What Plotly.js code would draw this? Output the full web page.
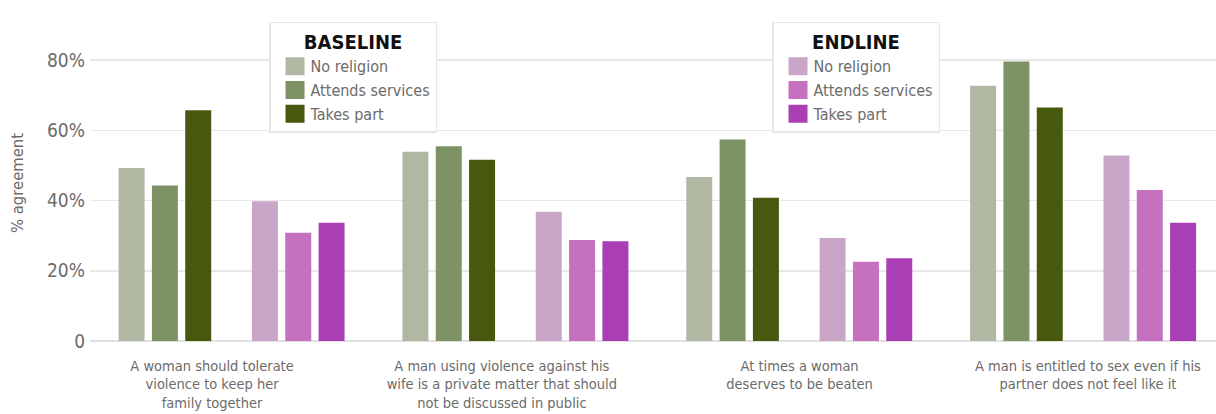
<!DOCTYPE html>
<html>
<head>
<meta charset="utf-8">
<script src="https://cdn.plot.ly/plotly-3.0.1.min.js"></script>
<style>
  html, body { margin: 0; padding: 0; background: #ffffff; }
  #chart { width: 1216px; height: 414px; }
</style>
</head>
<body>
<div id="chart"></div>
<script>
// ---- Data ----
const categories = [
  "A woman should tolerate<br>violence to keep her<br>family together",
  "A man using violence against his<br>wife is a private matter that should<br>not be discussed in public",
  "At times a woman<br>deserves to be beaten",
  "A man is entitled to sex even if his<br>partner does not feel like it"
];
const seriesNames = ["No religion", "Attends services", "Takes part"];
const baselineNoReligion = [49.3, 53.9, 46.7, 72.7];
const baselineAttends    = [44.3, 55.5, 57.4, 79.6];
const baselineTakesPart  = [65.7, 51.6, 40.8, 66.5];
const endlineNoReligion  = [39.8, 36.8, 29.3, 52.8];
const endlineAttends     = [30.8, 28.8, 22.6, 43.0];
const endlineTakesPart   = [33.7, 28.4, 23.6, 33.7];
const yTickVals = [0, 20, 40, 60, 80];
const yTickText = ["0", "20%", "40%", "60%", "80%"];

// ---- Styling ----
const FONT = "'Liberation Sans Narrow', 'DejaVu Sans Condensed', sans-serif";
const TEXT_GRAY = "#6b6b6b";
const baselineColors = ["#b0b7a3", "#7e9365", "#47580f"];
const endlineColors  = ["#c9a6c8", "#c571c0", "#aa3fb5"];
const BAR_W = 0.0916;
const PITCH = 0.1174;
const baselineOffsets = [-0.3993, -0.3993 + PITCH, -0.3993 + 2 * PITCH];
const endlineOffsets  = [0.0705, 0.0705 + PITCH, 0.0705 + 2 * PITCH];
const labelShift = [-0.07, -0.049, 0.0, 0.016]; // horizontal nudge of category labels

const xIdx = categories.map((_, i) => i);
const baselineData = [baselineNoReligion, baselineAttends, baselineTakesPart];
const endlineData = [endlineNoReligion, endlineAttends, endlineTakesPart];

const traces = [];
baselineData.forEach((vals, k) => {
  traces.push({
    type: "bar", x: xIdx, y: vals, name: seriesNames[k],
    width: BAR_W, offset: baselineOffsets[k],
    marker: { color: baselineColors[k], line: { width: 0 } },
    legend: "legend", hoverinfo: "y+name"
  });
});
endlineData.forEach((vals, k) => {
  traces.push({
    type: "bar", x: xIdx, y: vals, name: seriesNames[k],
    width: BAR_W, offset: endlineOffsets[k],
    marker: { color: endlineColors[k], line: { width: 0 } },
    legend: "legend2", hoverinfo: "y+name"
  });
});

const legendCommon = {
  bgcolor: "#ffffff",
  bordercolor: "#e6e6e6",
  borderwidth: 1.5,
  font: { family: FONT, size: 16, color: TEXT_GRAY },
  xanchor: "left", yanchor: "top",
  tracegroupgap: 0,
  itemwidth: 30,
  traceorder: "normal"
};

const layout = {
  width: 1216, height: 414,
  margin: { l: 90, r: 0, t: 25, b: 73 },
  paper_bgcolor: "#ffffff", plot_bgcolor: "#ffffff",
  barmode: "overlay",
  font: { family: FONT, color: TEXT_GRAY },
  showlegend: true,
  xaxis: {
    type: "linear",
    range: [-0.5, 3.467],
    tickmode: "array",
    tickvals: xIdx.map((v, i) => v + labelShift[i]),
    ticktext: categories,
    showgrid: false, zeroline: false,
    showline: false, ticks: "",
    tickfont: { family: FONT, size: 14.5, color: TEXT_GRAY },
    ticklabelstandoff: 14
  },
  yaxis: {
    range: [0, 90],
    tickmode: "array",
    tickvals: yTickVals,
    ticktext: yTickText,
    showgrid: true, gridcolor: "#e8e8e8", gridwidth: 1.5,
    zeroline: true, zerolinecolor: "#e0e0e0", zerolinewidth: 1.5,
    showline: false, ticks: "",
    tickfont: { family: FONT, size: 19, color: TEXT_GRAY },
    ticklabelstandoff: 4,
    title: { text: "% agreement", font: { family: FONT, size: 16.5, color: TEXT_GRAY }, standoff: 19 }
  },
  legend: Object.assign({}, legendCommon, {
    x: 0.159, y: 1.01,
    title: { text: "<b>BASELINE</b>", side: "top center", font: { family: FONT, size: 20, color: "#111111" } }
  }),
  legend2: Object.assign({}, legendCommon, {
    x: 0.6057, y: 1.01,
    title: { text: "<b>ENDLINE</b>", side: "top center", font: { family: FONT, size: 20, color: "#111111" } }
  })
};

function enlargeSwatches() {
  // enlarge legend keys to the reference's square swatches
  document.querySelectorAll("#chart .legendpoints path").forEach(p => {
    if (p.getAttribute("d") !== "M14,9H-5V-9H14Z") p.setAttribute("d", "M14,9H-5V-9H14Z");
  });
}

const gd = document.getElementById("chart");
Plotly.newPlot(gd, traces, layout, { displayModeBar: false, staticPlot: true }).then(() => {
  enlargeSwatches();
  gd.on && gd.on("plotly_afterplot", enlargeSwatches);
  setTimeout(enlargeSwatches, 50);
  setTimeout(enlargeSwatches, 300);
});
enlargeSwatches();
</script>
</body>
</html>
